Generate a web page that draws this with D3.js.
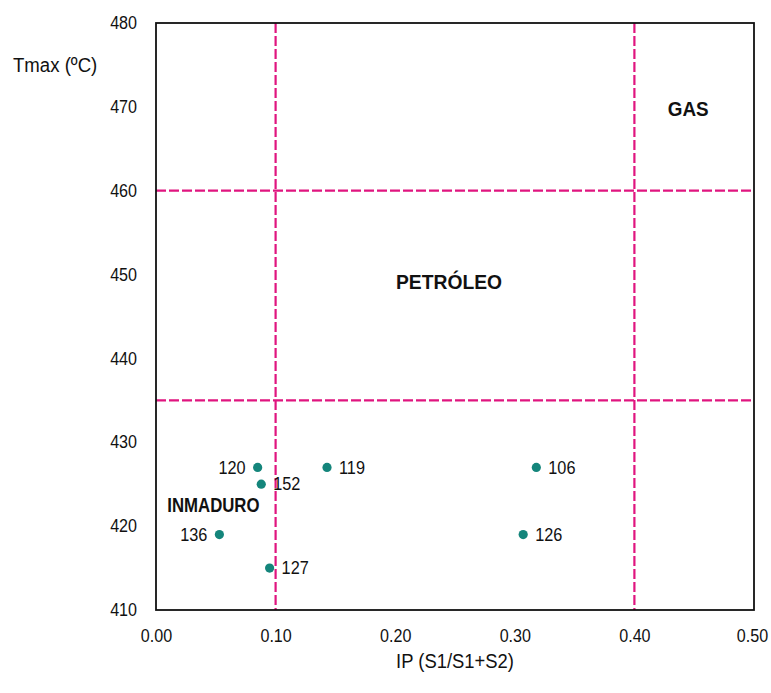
<!DOCTYPE html>
<html>
<head>
<meta charset="utf-8">
<script src="https://cdn.jsdelivr.net/npm/d3@7"></script>
<style>
  html, body { margin: 0; padding: 0; background: #fff; }
  svg { display: block; font-family: "Liberation Sans", Arial, sans-serif; }
</style>
</head>
<body>
<svg id="chart" width="771" height="693"></svg>
<script>
// Samples: pyrolysis production index vs Tmax
const sampleIds = ["120", "152", "136", "127", "119", "106", "126"];
const ipValues  = [0.085, 0.088, 0.053, 0.095, 0.143, 0.318, 0.307];
const tmaxValues = [427, 425, 419, 415, 427, 427, 419];
// label side for each sample: -1 left, 1 right
const labelSide = [-1, 1, -1, 1, 1, 1, 1];

const xTicks = [0, 0.1, 0.2, 0.3, 0.4, 0.5];
const yTicks = [410, 420, 430, 440, 450, 460, 470, 480];

// Maturity boundaries
const ipLimits = [0.1, 0.4];
const tmaxLimits = [435, 460];

const zones = [
  { name: "GAS", ip: 0.445, tmax: 468.9, size: 20.5, squeeze: 0.92 },
  { name: "PETRÓLEO", ip: 0.245, tmax: 448.3, size: 20.5, squeeze: 0.94 },
  { name: "INMADURO", ip: 0.048, tmax: 421.7, size: 19.5, squeeze: 0.86 }
];

const margin = { left: 156, top: 23, right: 17, bottom: 83 };
const W = 771, H = 693;
const svg = d3.select("#chart");

// Narrows a text element to a share of its natural width
function squeeze(sel, ratio) {
  sel.each(function () {
    const len = this.getComputedTextLength();
    d3.select(this).attr("textLength", len * ratio).attr("lengthAdjust", "spacingAndGlyphs");
  });
}

const x = d3.scaleLinear().domain([0, 0.5]).range([margin.left, W - margin.right]);
const y = d3.scaleLinear().domain([410, 480]).range([H - margin.bottom, margin.top]);

// Axes (labels only, no tick marks)
const xAxis = svg.append("g")
  .attr("transform", `translate(0,${y(410)})`)
  .call(d3.axisBottom(x).tickValues(xTicks).tickFormat(d3.format(".2f")).tickSize(0).tickPadding(20));
xAxis.select(".domain").remove();
xAxis.selectAll("text").attr("font-size", 17.5).attr("fill", "#111").attr("font-family", null)
  .call(squeeze, 0.92);
// keep the last label inside the page edge
xAxis.selectAll("text").filter(d => d === 0.5).attr("dx", -2);

const yAxis = svg.append("g")
  .attr("transform", `translate(${x(0)},0)`)
  .call(d3.axisLeft(y).tickValues(yTicks).tickFormat(d3.format("d")).tickSize(0).tickPadding(19));
yAxis.select(".domain").remove();
yAxis.selectAll("text").attr("font-size", 17.5).attr("fill", "#111").attr("font-family", null)
  .call(squeeze, 0.92);

// Boundary lines
const dashColor = "#e0157f";
svg.selectAll("line.vlim").data(ipLimits).join("line")
  .attr("x1", d => x(d)).attr("x2", d => x(d))
  .attr("y1", y(480)).attr("y2", y(410))
  .attr("stroke", dashColor).attr("stroke-width", 2.2).attr("stroke-dasharray", "10,3");
svg.selectAll("line.hlim").data(tmaxLimits).join("line")
  .attr("x1", x(0)).attr("x2", x(0.5))
  .attr("y1", d => y(d)).attr("y2", d => y(d))
  .attr("stroke", dashColor).attr("stroke-width", 2.2).attr("stroke-dasharray", "10,3");

// Plot frame
svg.append("rect")
  .attr("x", x(0)).attr("y", y(480))
  .attr("width", x(0.5) - x(0)).attr("height", y(410) - y(480))
  .attr("fill", "none").attr("stroke", "#111").attr("stroke-width", 1.8);

// Zone labels
svg.selectAll("text.zone").data(zones).join("text")
  .attr("x", d => x(d.ip)).attr("y", d => y(d.tmax))
  .attr("text-anchor", "middle")
  .attr("font-weight", "bold")
  .attr("font-size", d => d.size)
  .attr("fill", "#111")
  .text(d => d.name)
  .each(function (d) { d3.select(this).call(squeeze, d.squeeze); });

// Points
const pts = sampleIds.map((id, i) => ({ id, ip: ipValues[i], tmax: tmaxValues[i], side: labelSide[i] }));
svg.selectAll("circle.pt").data(pts).join("circle")
  .attr("cx", d => x(d.ip)).attr("cy", d => y(d.tmax))
  .attr("r", 4.6).attr("fill", "#14857b");

svg.selectAll("text.pt").data(pts).join("text")
  .attr("x", d => x(d.ip) + d.side * 12)
  .attr("y", d => y(d.tmax))
  .attr("dy", "0.35em")
  .attr("text-anchor", d => d.side < 0 ? "end" : "start")
  .attr("font-size", 17.5).attr("fill", "#111")
  .text(d => d.id)
  .call(squeeze, 0.93);

// Axis titles
svg.append("text")
  .attr("x", 13).attr("y", 72)
  .attr("font-size", 20).attr("fill", "#111")
  .text("Tmax (ºC)")
  .call(squeeze, 0.93);
svg.append("text")
  .attr("x", (x(0) + x(0.5)) / 2).attr("y", 668)
  .attr("text-anchor", "middle")
  .attr("font-size", 20).attr("fill", "#111")
  .text("IP (S1/S1+S2)")
  .call(squeeze, 0.92);
</script>
</body>
</html>
